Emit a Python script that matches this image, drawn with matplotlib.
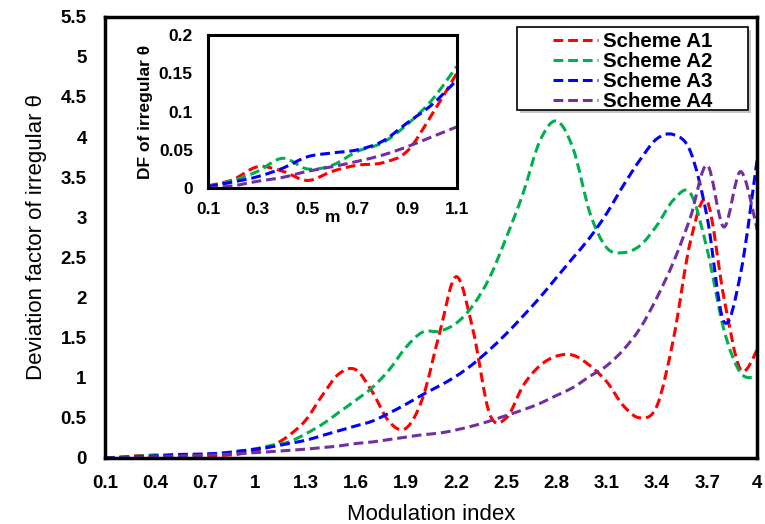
import numpy as np
import matplotlib
matplotlib.use("Agg")
import matplotlib.pyplot as plt
from matplotlib.path import Path
from matplotlib.patches import PathPatch, Rectangle
from matplotlib.lines import Line2D

plt.rcParams['font.family'] = ['Liberation Sans', 'DejaVu Sans']

# modulation index, 0.1 .. 4.0
m = [round(0.1 * i, 1) for i in range(1, 41)]

scheme_a1 = [0.003, 0.011, 0.028, 0.022, 0.01, 0.022, 0.03, 0.033, 0.048, 0.096, 0.15,
             0.28, 0.47, 0.78, 1.05, 1.1, 0.82, 0.45, 0.37, 0.75, 1.55, 2.26, 1.6, 0.55,
             0.5, 0.9, 1.15, 1.27, 1.28, 1.15, 0.95, 0.65, 0.5, 0.65, 1.5, 2.7, 3.2, 2.0,
             1.1, 1.35]
scheme_a2 = [0.002, 0.01, 0.022, 0.039, 0.025, 0.03, 0.048, 0.059, 0.083, 0.115, 0.159,
             0.2, 0.3, 0.42, 0.57, 0.72, 0.88, 1.1, 1.38, 1.57, 1.58, 1.68, 1.9, 2.25,
             2.75, 3.3, 3.95, 4.2, 3.85, 3.05, 2.62, 2.56, 2.65, 2.9, 3.22, 3.3, 2.6, 1.6,
             1.06, 1.01]
scheme_a3 = [0.002, 0.008, 0.015, 0.026, 0.041, 0.046, 0.05, 0.061, 0.085, 0.109, 0.141,
             0.18, 0.22, 0.28, 0.34, 0.4, 0.46, 0.56, 0.67, 0.79, 0.9, 1.02, 1.17, 1.35,
             1.55, 1.77, 2.0, 2.25, 2.5, 2.75, 3.05, 3.4, 3.72, 3.98, 4.03, 3.82, 3.0, 1.7,
             2.3, 3.74]
scheme_a4 = [0.0, 0.003, 0.009, 0.014, 0.022, 0.028, 0.035, 0.043, 0.054, 0.067, 0.08,
             0.095, 0.11, 0.13, 0.15, 0.18, 0.2, 0.23, 0.26, 0.29, 0.31, 0.35, 0.4, 0.46,
             0.53, 0.6, 0.68, 0.78, 0.88, 1.02, 1.15, 1.35, 1.62, 2.0, 2.45, 3.0, 3.65, 2.88,
             3.57, 2.84]

names = ['Scheme A1', 'Scheme A2', 'Scheme A3', 'Scheme A4']
colors = ['#FF0000', '#00B050', '#0000FF', '#7030A0']
main_ticks = [0.1, 0.4, 0.7, 1, 1.3, 1.6, 1.9, 2.2, 2.5, 2.8, 3.1, 3.4, 3.7, 4]
inset_ticks = [0.1, 0.3, 0.5, 0.7, 0.9, 1.1]
n_inset = 11  # points 0.1 .. 1.1 shown in the inset

DASH = (3.2, 1.6)


def smooth_line(ax, x, y, color, lw=2.2):
    """Excel style smoothed line (cubic bezier through the data points)."""
    x = np.asarray(x, float)
    y = np.asarray(y, float)
    pts = np.column_stack([x, y])
    verts = [pts[0]]
    codes = [Path.MOVETO]
    n = len(pts)
    for i in range(n - 1):
        p0 = pts[i - 1] if i > 0 else pts[i]
        p1 = pts[i]
        p2 = pts[i + 1]
        p3 = pts[i + 2] if i + 2 < n else pts[i + 1]
        c1 = p1 + (p2 - p0) / 6.0
        c2 = p2 - (p3 - p1) / 6.0
        verts += [c1, c2, p2]
        codes += [Path.CURVE4] * 3
    patch = PathPatch(Path(verts, codes), fill=False, edgecolor=color, lw=lw,
                      linestyle=(0, DASH), capstyle='butt', clip_on=True)
    ax.add_patch(patch)


fig = plt.figure(figsize=(7.65, 5.24), dpi=100)
ax = fig.add_axes([0.137, 0.126, 0.853, 0.842])

series = [scheme_a1, scheme_a2, scheme_a3, scheme_a4]
for vals, c in zip(series, colors):
    smooth_line(ax, m, vals, c)

ax.set_xlim(0.1, 4.0)
ax.set_ylim(0, 5.5)
ax.set_xticks(main_ticks)
ax.set_xticklabels([('%g' % t) for t in main_ticks])
ax.set_yticks(np.arange(0, 5.51, 0.5))
ax.set_yticklabels([('%g' % t) for t in np.arange(0, 5.51, 0.5)])
ax.tick_params(axis='x', length=0, labelsize=13.5, pad=12)
ax.tick_params(axis='y', length=0, labelsize=13.5, pad=13)
for lab in ax.get_xticklabels() + ax.get_yticklabels():
    lab.set_fontweight('bold')
for sp in ax.spines.values():
    sp.set_linewidth(2.5)
ax.set_xlabel('Modulation index', fontsize=16, labelpad=9)
ax.set_ylabel('Deviation factor of irregular θ', fontsize=16, labelpad=10)

# legend box (drawn separately so the entries sit centred like in Excel)
shadow = Rectangle((0.636, 0.781), 0.354, 0.188, transform=ax.transAxes,
                   facecolor='#b0b0b0', edgecolor='none', alpha=0.7, zorder=4.8)
box = Rectangle((0.631, 0.789), 0.354, 0.188, transform=ax.transAxes,
                facecolor='white', edgecolor='black', lw=1.2, zorder=4.9)
ax.add_patch(shadow)
ax.add_patch(box)

handles = [Line2D([], [], color=c, lw=2.2, linestyle=(0, DASH)) for c in colors]
leg = ax.legend(handles, names, loc='upper right', bbox_to_anchor=(0.932, 0.965),
                borderaxespad=0, frameon=False, handlelength=2.2,
                handletextpad=0.25, labelspacing=0.05, borderpad=0,
                prop={'weight': 'bold', 'size': 14.8})
leg.set_zorder(5)

# inset
axi = fig.add_axes([0.272, 0.641, 0.325, 0.292])
axi.set_facecolor('white')
for vals, c in zip(series, colors):
    smooth_line(axi, m[:n_inset], vals[:n_inset], c)
axi.set_xlim(0.1, 1.1)
axi.set_ylim(0, 0.2)
axi.set_xticks(inset_ticks)
axi.set_xticklabels([('%g' % t) for t in inset_ticks])
axi.set_yticks([0, 0.05, 0.1, 0.15, 0.2])
axi.set_yticklabels(['0', '0.05', '0.1', '0.15', '0.2'])
axi.tick_params(axis='x', length=0, labelsize=12.5, pad=10)
axi.tick_params(axis='y', length=0, labelsize=12.5, pad=11)
for lab in axi.get_xticklabels() + axi.get_yticklabels():
    lab.set_fontweight('bold')
for sp in axi.spines.values():
    sp.set_linewidth(2.2)
axi.set_xlabel('m', fontsize=12.5, fontweight='bold', labelpad=-5)
axi.set_ylabel('DF of irregular θ', fontsize=12.5, fontweight='bold', labelpad=4)

fig.savefig('out.png', dpi=100)
